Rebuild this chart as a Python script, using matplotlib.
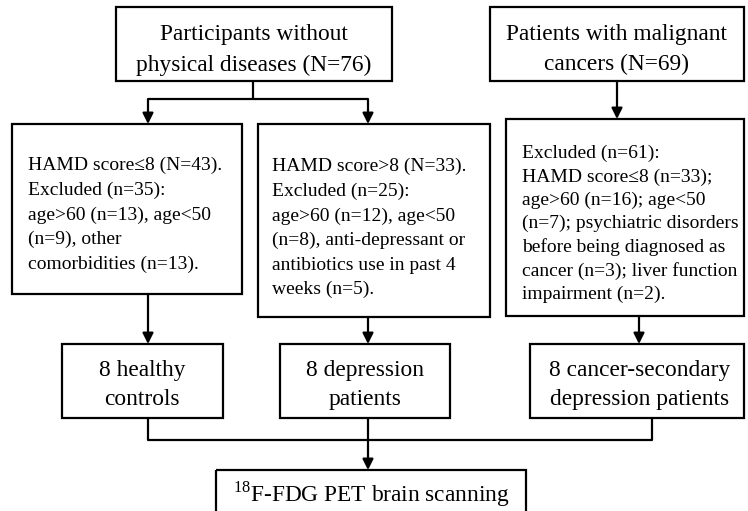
import matplotlib.pyplot as plt
from matplotlib.patches import Rectangle

plt.rcParams['font.family'] = ['Liberation Serif', 'DejaVu Serif']
plt.rcParams['mathtext.fontset'] = 'custom'
plt.rcParams['mathtext.rm'] = 'Liberation Serif'

# box texts
source_labels = ['Participants without\nphysical diseases (N=76)',
                 'Patients with malignant\ncancers (N=69)']
screen_labels = ['HAMD score\u22648 (N=43).\nExcluded (n=35):\nage>60 (n=13), age<50\n(n=9), other\ncomorbidities (n=13).',
                 'HAMD score>8 (N=33).\nExcluded (n=25):\nage>60 (n=12), age<50\n(n=8), anti-depressant or\nantibiotics use in past 4\nweeks (n=5).',
                 'Excluded (n=61):\nHAMD score\u22648 (n=33);\nage>60 (n=16); age<50\n(n=7); psychiatric disorders\nbefore being diagnosed as\ncancer (n=3); liver function\nimpairment (n=2).']
group_labels = ['8 healthy\ncontrols', '8 depression\npatients',
                '8 cancer-secondary\ndepression patients']
final_label = '$^{18}$F-FDG PET brain scanning'

fig = plt.figure(figsize=(7.48, 5.11), dpi=100)
ax = fig.add_axes([0, 0, 1, 1])
ax.set_xlim(0, 748)
ax.set_ylim(511, 0)
ax.axis('off')

LW = 1.6
BIG = 16.8
SMALL = 14


def box(x0, y0, x1, y1):
    ax.add_patch(Rectangle((x0, y0), x1 - x0, y1 - y0, fill=False,
                           edgecolor='black', linewidth=LW, clip_on=False))


def line(xs, ys):
    ax.plot(xs, ys, color='black', linewidth=LW, solid_capstyle='butt')


def arrow(x, y0, y1):
    ax.annotate('', xy=(x, y1), xytext=(x, y0),
                arrowprops=dict(arrowstyle='-|>', color='black', lw=LW,
                                mutation_scale=16, shrinkA=0, shrinkB=0))


# top row
box(116, 7, 392, 81)
box(490, 7, 744, 81)
ax.text(254, 50, source_labels[0], ha='center', va='center', fontsize=BIG, linespacing=1.55)
ax.text(617, 50, source_labels[1], ha='center', va='center', fontsize=BIG, linespacing=1.55)

line([253, 253], [81, 99])
line([148, 368], [99, 99])
arrow(148, 99, 124)
arrow(368, 99, 124)
arrow(617, 81, 119)

# screening row
box(12, 124, 242, 294)
box(258, 124, 490, 317)
box(506, 119, 744, 316)
ax.text(28, 215, screen_labels[0], ha='left', va='center', fontsize=SMALL, linespacing=1.56)
ax.text(272, 228, screen_labels[1], ha='left', va='center', fontsize=SMALL, linespacing=1.56)
ax.text(522, 224, screen_labels[2], ha='left', va='center', fontsize=SMALL, linespacing=1.44)

arrow(148, 294, 344)
arrow(368, 317, 344)
arrow(639, 316, 344)

# group row
box(62, 344, 223, 418)
box(280, 344, 450, 418)
box(530, 344, 744, 418)
ax.text(142, 385, group_labels[0], ha='center', va='center', fontsize=BIG, linespacing=1.55)
ax.text(365, 385, group_labels[1], ha='center', va='center', fontsize=BIG, linespacing=1.55)
ax.text(640, 385, group_labels[2], ha='center', va='center', fontsize=BIG, linespacing=1.55)

line([148, 148, 652, 652], [418, 440, 440, 418])
arrow(368, 418, 470)

# final box
box(216, 470, 526, 520)
ax.text(371, 494, final_label, ha='center', va='center', fontsize=BIG)

fig.savefig('out.png', dpi=100)
